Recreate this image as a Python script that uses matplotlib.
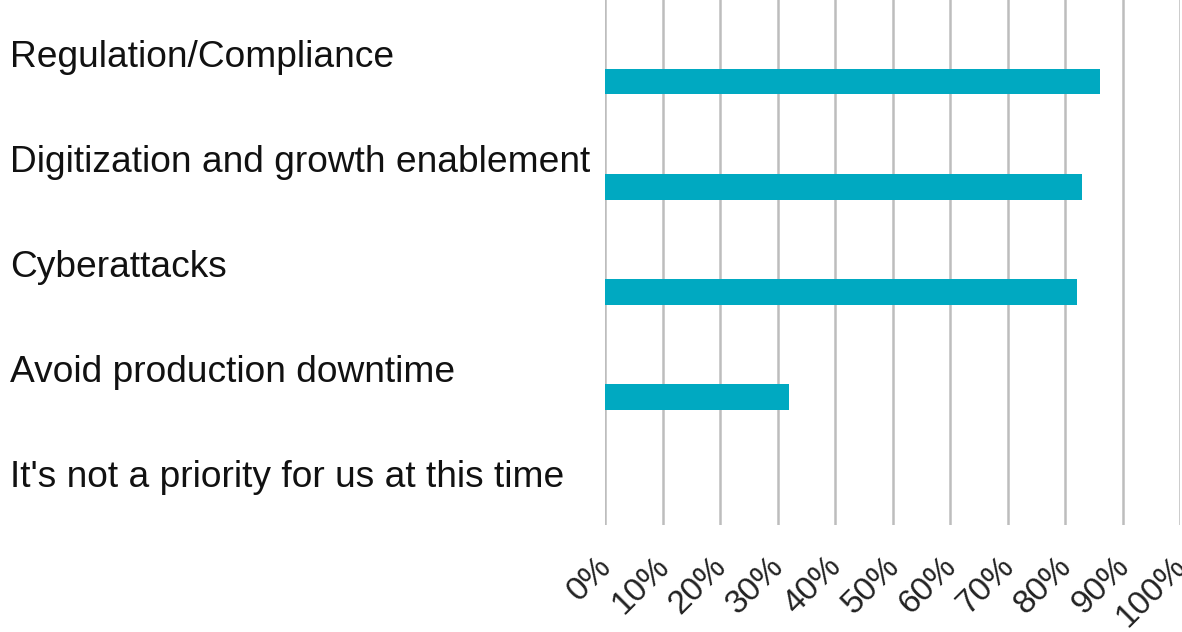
import matplotlib
matplotlib.use("Agg")
import matplotlib.pyplot as plt
import matplotlib.transforms as mtransforms
import numpy as np

categories = [
    "Regulation/Compliance",
    "Digitization and growth enablement",
    "Cyberattacks",
    "Avoid production downtime",
    "It's not a priority for us at this time",
]
values = [86, 83, 82, 32, 0]
ticks = list(range(0, 101, 10))
tick_labels = [f"{t}%" for t in ticks]

plt.rcParams["font.family"] = ["Liberation Sans", "DejaVu Sans"]

fig = plt.figure(figsize=(11.82, 6.32), dpi=100)
ax = fig.add_axes([605 / 1182, 1 - 525 / 632, 575 / 1182, 525 / 632])

pos = np.arange(len(categories))
ax.barh(pos + 0.28, values, height=0.24, color="#00A9C1", zorder=3)

ax.set_xlim(0, 100)
ax.set_ylim(len(categories) - 0.5, -0.5)
ax.set_xticks(ticks)
ax.set_xticklabels(tick_labels, rotation=45, ha="right", va="top",
                   rotation_mode="anchor", fontsize=24, color="#222222")
ax.tick_params(axis="x", length=0, pad=20)
shift = mtransforms.ScaledTranslation(-9 / 100, 2 / 100, fig.dpi_scale_trans)
for lbl in ax.get_xticklabels():
    lbl.set_transform(lbl.get_transform() + shift)
ax.set_yticks([])
ax.grid(axis="x", color="#BDBDBD", linewidth=1.8, zorder=0)
for s in ax.spines.values():
    s.set_visible(False)

# category labels sit above each bar, flush with the figure's left edge
trans = mtransforms.blended_transform_factory(fig.transFigure, ax.transData)
for i, name in enumerate(categories):
    ax.text(10 / 1182, i + 0.138, name, transform=trans, ha="left",
            va="baseline", fontsize=26.7, color="#111111", clip_on=False)

fig.savefig("out.png", dpi=100)
